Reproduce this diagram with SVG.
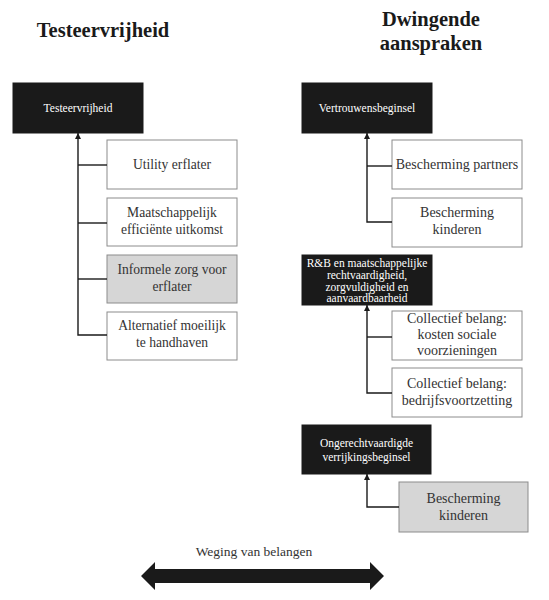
<svg xmlns="http://www.w3.org/2000/svg" width="549" height="600" viewBox="0 0 549 600">
<defs>
<style>
.title{font-family:"Liberation Serif","Times New Roman",serif;font-weight:bold;font-size:20.5px;fill:#1a1a1a;text-anchor:middle}
.head rect{fill:#1a1a1a;stroke:#1a1a1a}
.head text{font-family:"Liberation Serif","Times New Roman",serif;font-size:11.5px;fill:#ffffff;text-anchor:middle}
.box rect{fill:#ffffff;stroke:#8c8c8c;stroke-width:1}
.box.grey rect{fill:#d6d6d6}
.box text{font-family:"Liberation Serif","Times New Roman",serif;font-size:13.6px;fill:#333333;text-anchor:middle}
.box.r text{font-size:14px}
.conn path{fill:none;stroke:#1a1a1a;stroke-width:1.4}
.lbl{font-family:"Liberation Serif","Times New Roman",serif;font-size:13.5px;fill:#333333;text-anchor:middle}
</style>
<marker id="ah" viewBox="0 0 10 10" refX="10" refY="5" markerWidth="6" markerHeight="6" orient="auto" markerUnits="userSpaceOnUse">
<path d="M0,0 L10,5 L0,10 z" fill="#1a1a1a"/>
</marker>
</defs>
<rect width="549" height="600" fill="#ffffff"/>

<text class="title" x="103" y="37">Testeervrijheid</text>
<text class="title" x="431" y="26">Dwingende</text>
<text class="title" x="431" y="50">aanspraken</text>

<g id="n-testeervrijheid" class="head"><rect x="13" y="83" width="130" height="50"/><text x="78" y="112">Testeervrijheid</text></g>
<g id="n-utility" class="box"><rect x="107" y="140" width="130" height="49"/><text x="172" y="169">Utility erflater</text></g>
<g id="n-maatschappelijk" class="box"><rect x="107" y="198" width="130" height="48"/><text x="172" y="217">Maatschappelijk</text><text x="172" y="234">efficiënte uitkomst</text></g>
<g id="n-informele" class="box grey"><rect x="107" y="255" width="130" height="48"/><text x="172" y="274">Informele zorg voor</text><text x="172" y="291">erflater</text></g>
<g id="n-alternatief" class="box"><rect x="107" y="312" width="130" height="48"/><text x="172" y="330">Alternatief moeilijk</text><text x="172" y="347">te handhaven</text></g>

<g id="n-vertrouwen" class="head"><rect x="302" y="83" width="130" height="50"/><text x="367" y="112">Vertrouwensbeginsel</text></g>
<g id="n-partners" class="box r"><rect x="392" y="140" width="130" height="49"/><text x="457" y="169">Bescherming partners</text></g>
<g id="n-kinderen1" class="box r"><rect x="392" y="198" width="130" height="49"/><text x="457" y="217">Bescherming</text><text x="457" y="234">kinderen</text></g>

<g id="n-rb" class="head"><rect x="302" y="255" width="130" height="50"/><text x="367" y="267" font-size="11">R&amp;B en maatschappelijke</text><text x="367" y="279" font-size="11">rechtvaardigheid,</text><text x="367" y="291" font-size="11">zorgvuldigheid en</text><text x="367" y="302" font-size="11">aanvaardbaarheid</text></g>
<g id="n-kosten" class="box r"><rect x="392" y="311" width="130" height="49"/><text x="457" y="323">Collectief belang:</text><text x="457" y="339">kosten sociale</text><text x="457" y="355">voorzieningen</text></g>
<g id="n-bedrijf" class="box r"><rect x="392" y="368" width="130" height="49"/><text x="457" y="388">Collectief belang:</text><text x="457" y="405">bedrijfsvoortzetting</text></g>

<g id="n-ongerecht" class="head"><rect x="302" y="425" width="129" height="49"/><text x="366.5" y="447">Ongerechtvaardigde</text><text x="366.5" y="461">verrijkingsbeginsel</text></g>
<g id="n-kinderen2" class="box r grey"><rect x="399" y="482" width="129" height="50"/><text x="463.5" y="503">Bescherming</text><text x="463.5" y="520">kinderen</text></g>

<g id="connectors" class="conn">
<path d="M107,335 H78 V133" marker-end="url(#ah)"/>
<path d="M78,165 H107"/>
<path d="M78,223 H107"/>
<path d="M78,279 H107"/>
<path d="M392,222 H367 V133" marker-end="url(#ah)"/>
<path d="M367,166 H392"/>
<path d="M392,393 H367 V305" marker-end="url(#ah)"/>
<path d="M367,337 H392"/>
<path d="M399,507 H367 V474" marker-end="url(#ah)"/>
</g>

<g id="weging">
<text class="lbl" x="254" y="556">Weging van belangen</text>
<polygon points="141,576 155,562 155,569 370,569 370,562 384,576 370,590 370,583 155,583 155,590" fill="#1a1a1a"/>
</g>
</svg>
